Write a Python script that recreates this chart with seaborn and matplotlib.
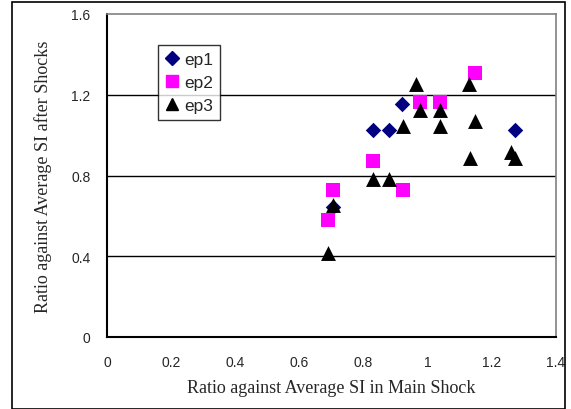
import matplotlib
matplotlib.use("Agg")
import matplotlib.pyplot as plt
import seaborn as sns
import pandas as pd
from matplotlib.patches import Rectangle
from matplotlib.lines import Line2D

ep1_x = [0.92, 0.83, 0.878, 1.273, 0.706]
ep1_y = [1.154, 1.025, 1.025, 1.025, 0.642]
ep2_x = [1.146, 0.976, 1.039, 0.829, 0.706, 0.922, 0.69]
ep2_y = [1.307, 1.162, 1.162, 0.872, 0.728, 0.728, 0.581]
ep3_x = [0.965, 1.128, 0.976, 1.039, 0.922, 1.039, 1.147, 1.132, 1.261, 1.273, 0.83, 0.878, 0.706, 0.69]
ep3_y = [1.253, 1.253, 1.125, 1.125, 1.043, 1.043, 1.07, 0.888, 0.915, 0.888, 0.783, 0.783, 0.654, 0.418]
x_ticks = [0, 0.2, 0.4, 0.6, 0.8, 1.0, 1.2, 1.4]
x_tick_labels = ["0", "0.2", "0.4", "0.6", "0.8", "1", "1.2", "1.4"]
y_ticks = [0, 0.4, 0.8, 1.2, 1.6]
y_tick_labels = ["0", "0.4", "0.8", "1.2", "1.6"]

series = {"ep1": (ep1_x, ep1_y), "ep2": (ep2_x, ep2_y), "ep3": (ep3_x, ep3_y)}
colors = {"ep1": "#000080", "ep2": "#FF00FF", "ep3": "#000000"}
markers = {"ep1": "D", "ep2": "s", "ep3": "^"}
sizes = {"ep1": 62, "ep2": 100, "ep3": 115}

sns.set_theme(style="white")
plt.rcParams["font.family"] = ["Liberation Sans", "DejaVu Sans"]

fig = plt.figure(figsize=(5.71, 4.10), dpi=100)
W, H = 571, 410
ax = fig.add_axes([107 / W, 1 - 338 / H, (556 - 107) / W, (338 - 15) / H])

for name, (xs, ys) in series.items():
    df = pd.DataFrame({"x": xs, "y": ys})
    sns.scatterplot(data=df, x="x", y="y", ax=ax, color=colors[name],
                    marker=markers[name], s=sizes[name], linewidth=0,
                    zorder=3, legend=False)

ax.set_xlim(0, 1.4)
ax.set_ylim(0, 1.6)
ax.set_xticks(x_ticks)
ax.set_xticklabels(x_tick_labels, fontsize=10)
ax.set_yticks(y_ticks)
ax.set_yticklabels(y_tick_labels, fontsize=10)
for yv in y_ticks[1:-1]:
    ax.axhline(yv, color="black", lw=1.0, zorder=1)

for s in ["top", "right"]:
    ax.spines[s].set_color("#808080")
    ax.spines[s].set_linewidth(1.2)
for s in ["left", "bottom"]:
    ax.spines[s].set_color("black")
    ax.spines[s].set_linewidth(1.5)

ax.tick_params(axis="x", direction="in", length=4, width=1, color="black", pad=13)
ax.tick_params(axis="y", direction="out", length=3, width=1, color="black", pad=9)

ax.set_xlabel("Ratio against Average SI in Main Shock", fontsize=13,
              family=["Liberation Serif"], labelpad=7)
ax.set_ylabel("Ratio against Average SI after Shocks", fontsize=13,
              family=["Liberation Serif"], labelpad=14)

handles = [Line2D([], [], linestyle="none", marker=markers[n], color=colors[n],
                  markersize=(7 if n == "ep1" else 9), label=n) for n in series]
leg = ax.legend(handles=handles, loc="upper left",
                bbox_to_anchor=((158 - 107) / 449, (338 - 46) / 323),
                frameon=True, fancybox=False, fontsize=12.5,
                handlelength=0.8, handletextpad=0.3, borderpad=0.4,
                labelspacing=0.45, borderaxespad=0)
leg.get_frame().set_edgecolor("black")
leg.get_frame().set_linewidth(1.0)

fig.patches.append(Rectangle((12 / W, 0), (565 - 12) / W, 1 - 3 / H,
                             transform=fig.transFigure, fill=False,
                             edgecolor="black", lw=1.2))

fig.savefig("out.png", dpi=100, facecolor="white")
